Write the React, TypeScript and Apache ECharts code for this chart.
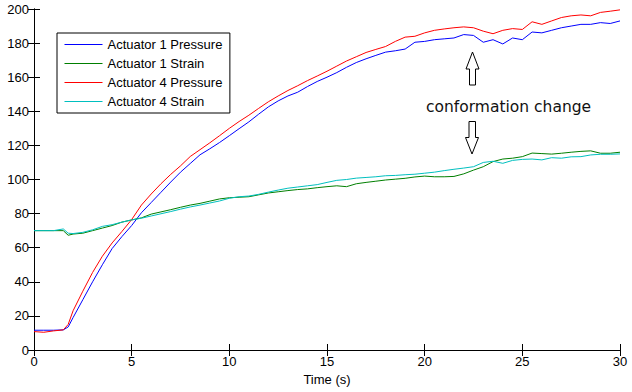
import React, { useEffect, useRef } from "react";
import * as echarts from "echarts";

const time = [0, 0.5, 1, 1.5, 1.75, 2, 2.5, 3, 3.5, 4, 4.5, 5, 5.5, 6, 6.5, 7, 7.5, 8, 8.5, 9, 9.5, 10, 10.5, 11, 11.5, 12, 12.5, 13, 13.5, 14, 14.5, 15, 15.5, 16, 16.5, 17, 17.5, 18, 18.5, 19, 19.5, 20, 20.5, 21, 21.5, 22, 22.5, 23, 23.5, 24, 24.5, 25, 25.5, 26, 26.5, 27, 27.5, 28, 28.5, 29, 29.5, 30];

const act1Pressure = [11.6, 11.6, 11.6, 11.8, 13.5, 19, 29.5, 40, 50, 59.5, 66.5, 73, 80.5, 86.5, 92.5, 98.5, 104.3, 109.4, 114.5, 118, 121.7, 125.7, 129.8, 133.8, 138.3, 142.6, 146.1, 149, 151.2, 154.5, 157.5, 160, 162.7, 165.8, 168.6, 170.8, 172.8, 174.7, 175.5, 176.5, 180.5, 181, 182, 182.5, 183, 185, 184.5, 180.5, 182, 179.5, 183, 182, 186.5, 186, 187.5, 189, 190, 191, 191, 192, 191.5, 193];

const act1Strain = [70, 70, 70, 70, 67.3, 68, 68.5, 70, 71.5, 73, 75, 76.3, 77.5, 79.7, 81, 82.3, 83.7, 85, 86, 87.3, 88.6, 89.3, 89.6, 89.9, 91, 92.1, 92.8, 93.5, 94.1, 94.5, 95.2, 95.8, 96.3, 95.8, 97.5, 98.3, 99, 99.7, 100.2, 100.7, 101.5, 102, 101.6, 101.6, 101.8, 103.3, 105.5, 107.5, 110.5, 112, 112.5, 113.4, 115.5, 115.2, 114.9, 115.4, 116, 116.5, 116.8, 115.4, 115.4, 116];

const act4Pressure = [10.8, 10.4, 11.2, 11.8, 15, 23, 34.5, 45.5, 55, 62.8, 69.5, 76.5, 85, 91.5, 97.5, 103, 108, 113.5, 117.5, 121.5, 125.7, 130, 134, 137.7, 141.7, 145.6, 149, 152.2, 155, 158, 160.7, 163.5, 166.5, 169.5, 172, 174.5, 176.3, 178, 181, 183.5, 184, 186, 187.5, 188.3, 189, 189.5, 189, 187, 185.5, 187.5, 188.5, 188, 192.5, 191, 193, 195, 196, 196.5, 196, 198, 198.7, 199.5];

const act4Strain = [70, 70, 70, 71, 68.5, 68.3, 69, 70.5, 72.5, 73.5, 75, 76.3, 77.3, 78.6, 79.9, 81.2, 82.6, 83.9, 85, 86.2, 87.4, 89, 89.9, 90.3, 91.3, 92.6, 93.8, 94.9, 95.6, 96.3, 97, 98.3, 99.5, 100, 100.8, 101.2, 101.6, 102.2, 102.4, 102.8, 103.1, 103.7, 104.3, 105.2, 106, 106.7, 107.5, 110, 110.7, 109.5, 111.2, 111.8, 112, 111.5, 112.8, 112.5, 113.3, 113.4, 114.4, 114.8, 114.8, 115];

const seriesNames = ["Actuator 1 Pressure", "Actuator 1 Strain", "Actuator 4 Pressure", "Actuator 4 Strain"];
const seriesValues = [act1Pressure, act1Strain, act4Pressure, act4Strain];
const seriesColors = ["#0000ff", "#007f00", "#ff0000", "#00bfbf"];

const annotationText = "conformation change";
const xAxisName = "Time (s)";

const FONT = "'Liberation Sans', Arial, sans-serif";

export default function App() {
  const ref = useRef<HTMLDivElement>(null);
  useEffect(() => {
    if (!ref.current) return;
    const chart = echarts.init(ref.current, null, { renderer: "svg" });
    const axisLine = { show: true, lineStyle: { color: "#000", width: 1 } };
    const tick = { show: true, inside: true, length: 6, lineStyle: { color: "#000" } };
    const label = { color: "#000", fontSize: 13, fontFamily: FONT };
    chart.setOption({
      animation: false,
      backgroundColor: "#fff",
      grid: { left: 34, right: 12, top: 9, bottom: 42, containLabel: false },
      legend: {
        left: 57,
        top: 33,
        orient: "vertical",
        data: seriesNames,
        selectedMode: false,
        icon: "rect",
        backgroundColor: "#fff",
        borderColor: "#000",
        borderWidth: 1,
        borderRadius: 0,
        padding: [4.5, 7.5, 4.5, 7.5],
        itemWidth: 38,
        itemHeight: 1.2,
        itemGap: 5,
        textStyle: { color: "#000", fontSize: 13, fontFamily: FONT, lineHeight: 14, height: 14 },
      },
      xAxis: [
        {
          type: "value",
          min: 0,
          max: 30,
          interval: 5,
          position: "bottom",
          axisLine,
          axisTick: tick,
          axisLabel: { ...label, margin: 5 },
          splitLine: { show: false },
          name: xAxisName,
          nameLocation: "middle",
          nameGap: 22,
          nameTextStyle: { color: "#000", fontSize: 13, fontFamily: FONT },
        },
        {
          type: "value",
          min: 0,
          max: 30,
          interval: 5,
          position: "top",
          axisLine,
          axisTick: tick,
          axisLabel: { show: false },
          splitLine: { show: false },
        },
      ],
      yAxis: [
        {
          type: "value",
          min: 0,
          max: 200,
          interval: 20,
          position: "left",
          axisLine,
          axisTick: tick,
          axisLabel: { ...label, margin: 5 },
          splitLine: { show: false },
        },
        {
          type: "value",
          min: 0,
          max: 200,
          interval: 20,
          position: "right",
          axisLine,
          axisTick: tick,
          axisLabel: { show: false },
          splitLine: { show: false },
        },
      ],
      series: seriesNames.map((name, k) => ({
        name,
        type: "line",
        xAxisIndex: 0,
        yAxisIndex: 0,
        symbol: "none",
        showSymbol: false,
        color: seriesColors[k],
        itemStyle: { color: seriesColors[k] },
        lineStyle: { width: 1, color: seriesColors[k] },
        data: time.map((t, i) => [t, seriesValues[k][i]]),
      })),
      graphic: [
        {
          type: "polygon",
          shape: {
            points: [
              [472.5, 52],
              [479, 69],
              [475.5, 69],
              [475.5, 85],
              [469.5, 85],
              [469.5, 69],
              [466, 69],
            ],
          },
          style: { fill: "#fff", stroke: "#000", lineWidth: 1 },
          z: 100,
        },
        {
          type: "polygon",
          shape: {
            points: [
              [469, 121.5],
              [475.5, 121.5],
              [475.5, 137.5],
              [478.5, 137.5],
              [472, 154],
              [465.5, 137.5],
              [469, 137.5],
            ],
          },
          style: { fill: "#fff", stroke: "#000", lineWidth: 1 },
          z: 100,
        },
        {
          type: "text",
          x: 426,
          y: 107,
          style: {
            text: annotationText,
            fill: "#111",
            fontSize: 15.5,
            fontFamily: "'DejaVu Sans', Verdana, sans-serif",
            verticalAlign: "middle",
            align: "left",
          },
          z: 100,
        },
      ],
    });
    return () => chart.dispose();
  }, []);
  return (
    <div
      ref={ref}
      style={{ position: "fixed", left: 0, top: 0, width: 632, height: 392 }}
    />
  );
}
